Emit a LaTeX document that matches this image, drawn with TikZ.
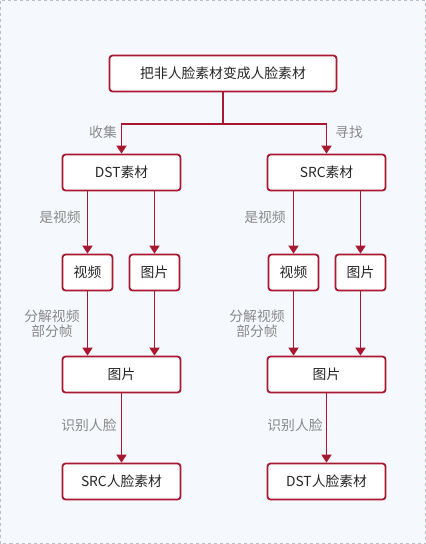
\documentclass[tikz,border=0pt]{standalone}
\usepackage{fontspec}
\setmainfont{Noto Sans CJK SC}
\usetikzlibrary{arrows.meta}
\definecolor{edgecol}{RGB}{168,24,48}
\definecolor{bgcol}{RGB}{245,248,253}
\definecolor{lblcol}{RGB}{136,136,136}
\definecolor{framecol}{RGB}{190,190,190}
\begin{document}
\begin{tikzpicture}[x=1pt,y=-1pt,
  box/.style={draw=edgecol, line width=1.8pt, rounded corners=3pt, fill=white,
    minimum height=36pt, inner sep=0pt, text=black!85,
    font=\fontsize{13.8}{16}\selectfont},
  conn/.style={draw=edgecol, line width=1.8pt, -{Triangle[length=8pt,width=10pt]}},
  plain/.style={draw=edgecol, line width=1.8pt},
  lbl/.style={text=lblcol, inner sep=0pt, align=center, font=\fontsize{13.8}{15.5}\selectfont}]
\fill[bgcol] (0,0) rectangle (426,544);
\draw[framecol, dashed, line width=0.8pt] (0.5,0.5) rectangle (425.5,543.5);
\useasboundingbox (0,0) rectangle (426,544);
% nodes
\node[box, minimum width=227pt] (top) at (223,73.5) {把非人脸素材变成人脸素材};
\node[box, minimum width=118pt] (dst) at (121.5,172.5) {DST素材};
\node[box, minimum width=118pt] (src) at (326.5,172.5) {SRC素材};
\node[box, minimum width=50pt] (v1) at (87.5,272.5) {视频};
\node[box, minimum width=50pt] (p1) at (154.5,272.5) {图片};
\node[box, minimum width=50pt] (v2) at (293.5,272.5) {视频};
\node[box, minimum width=50pt] (p2) at (360.5,272.5) {图片};
\node[box, minimum width=118pt] (pa) at (121.5,374.5) {图片};
\node[box, minimum width=118pt] (pb) at (326.5,374.5) {图片};
\node[box, minimum width=118pt] (ra) at (121.5,481.5) {SRC人脸素材};
\node[box, minimum width=118pt] (rb) at (326.5,481.5) {DST人脸素材};
% connectors
\coordinate (j) at (223,124);
\draw[plain] (top.south) -- (j);
\draw[conn] (j) -| (dst.north);
\draw[conn] (j) -| (src.north);
\draw[conn] (dst.south -| v1.north) -- (v1.north);
\draw[conn] (dst.south -| p1.north) -- (p1.north);
\draw[conn] (src.south -| v2.north) -- (v2.north);
\draw[conn] (src.south -| p2.north) -- (p2.north);
\draw[conn] (v1.south) -- (v1.south |- pa.north);
\draw[conn] (p1.south) -- (p1.south |- pa.north);
\draw[conn] (v2.south) -- (v2.south |- pb.north);
\draw[conn] (p2.south) -- (p2.south |- pb.north);
\draw[conn] (pa.south) -- (ra.north);
\draw[conn] (pb.south) -- (rb.north);
% labels
\node[lbl, anchor=east] (l1) at (117,132) {收集};
\node[lbl, anchor=west] (l2) at (335,132) {寻找};
\node[lbl] (l3) at (60,217) {是视频};
\node[lbl] (l4) at (265,217) {是视频};
\node[lbl] (l5) at (52,324) {分解视频\\部分帧};
\node[lbl] (l6) at (257,324) {分解视频\\部分帧};
\node[lbl] (l7) at (89,425) {识别人脸};
\node[lbl] (l8) at (295,425) {识别人脸};
\end{tikzpicture}
\end{document}
